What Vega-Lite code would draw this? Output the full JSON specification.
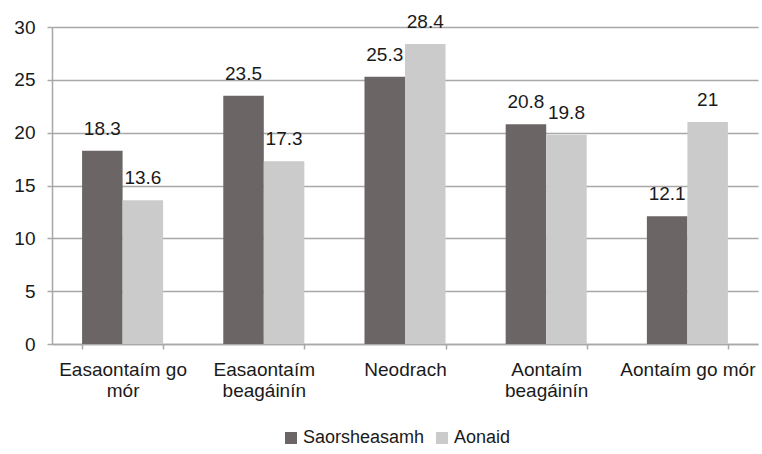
{
  "$schema": "https://vega.github.io/schema/vega-lite/v6.json",
  "width": 706,
  "height": 317,
  "autosize": "none",
  "padding": {"left": 52, "top": 27, "right": 4, "bottom": 110},
  "background": "white",
  "config": {
    "font": "Liberation Sans",
    "view": {"stroke": null},
    "axis": {"labelFont": "Liberation Sans", "labelColor": "#1a1a1a", "labelFontSize": 19}
  },
  "data": {
    "values": [
      {"cat": "Easaontaím go mór", "series": "Saorsheasamh", "v": 18.3},
      {"cat": "Easaontaím go mór", "series": "Aonaid", "v": 13.6},
      {"cat": "Easaontaím beagáinín", "series": "Saorsheasamh", "v": 23.5},
      {"cat": "Easaontaím beagáinín", "series": "Aonaid", "v": 17.3},
      {"cat": "Neodrach", "series": "Saorsheasamh", "v": 25.3},
      {"cat": "Neodrach", "series": "Aonaid", "v": 28.4},
      {"cat": "Aontaím beagáinín", "series": "Saorsheasamh", "v": 20.8},
      {"cat": "Aontaím beagáinín", "series": "Aonaid", "v": 19.8},
      {"cat": "Aontaím go mór", "series": "Saorsheasamh", "v": 12.1},
      {"cat": "Aontaím go mór", "series": "Aonaid", "v": 21}
    ]
  },
  "encoding": {
    "x": {
      "field": "cat",
      "type": "nominal",
      "sort": ["Easaontaím go mór", "Easaontaím beagáinín", "Neodrach", "Aontaím beagáinín", "Aontaím go mór"],
      "scale": {"paddingInner": 0.426, "paddingOuter": 0.213},
      "axis": {
        "title": null,
        "labelAngle": 0,
        "domainColor": "#a8a8a8",
        "domainWidth": 1.5,
        "tickColor": "#a8a8a8",
        "tickWidth": 1.5,
        "tickSize": 5,
        "tickBand": "extent",
        "labelPadding": 11,
        "labelLineHeight": 21,
        "labelBaseline": "top",
        "labelExpr": "datum.label == 'Easaontaím go mór' ? ['Easaontaím go', 'mór'] : datum.label == 'Easaontaím beagáinín' ? ['Easaontaím', 'beagáinín'] : datum.label == 'Aontaím beagáinín' ? ['Aontaím', 'beagáinín'] : datum.label"
      }
    },
    "xOffset": {"field": "series", "type": "nominal", "sort": ["Saorsheasamh", "Aonaid"], "scale": {"paddingInner": 0, "paddingOuter": 0}},
    "y": {
      "field": "v",
      "type": "quantitative",
      "scale": {"domain": [0, 30], "nice": false},
      "axis": {
        "title": null,
        "values": [0, 5, 10, 15, 20, 25, 30],
        "grid": true,
        "gridColor": "#a8a8a8",
        "gridWidth": 1.5,
        "domainColor": "#a8a8a8",
        "domainWidth": 1.5,
        "tickColor": "#a8a8a8",
        "tickWidth": 1.5,
        "tickSize": 5,
        "labelPadding": 12
      }
    }
  },
  "layer": [
    {
      "mark": {"type": "bar"},
      "encoding": {
        "color": {
          "field": "series",
          "type": "nominal",
          "sort": ["Saorsheasamh", "Aonaid"],
          "scale": {"domain": ["Saorsheasamh", "Aonaid"], "range": ["#6b6665", "#cbcbcb"]},
          "legend": {
            "title": null,
            "orient": "none",
            "direction": "horizontal",
            "legendX": 230,
            "legendY": 402,
            "symbolType": "square",
            "symbolSize": 144,
            "symbolStrokeWidth": 0,
            "labelFontSize": 18,
            "labelFont": "Liberation Sans",
            "labelColor": "#1a1a1a",
            "labelOffset": 3,
            "columnPadding": 8,
            "padding": 0
          }
        }
      }
    },
    {
      "mark": {"type": "text", "baseline": "alphabetic", "dy": -16, "fontSize": 19, "color": "#1a1a1a", "font": "Liberation Sans"},
      "encoding": {"text": {"field": "v", "type": "quantitative"}}
    }
  ]
}
